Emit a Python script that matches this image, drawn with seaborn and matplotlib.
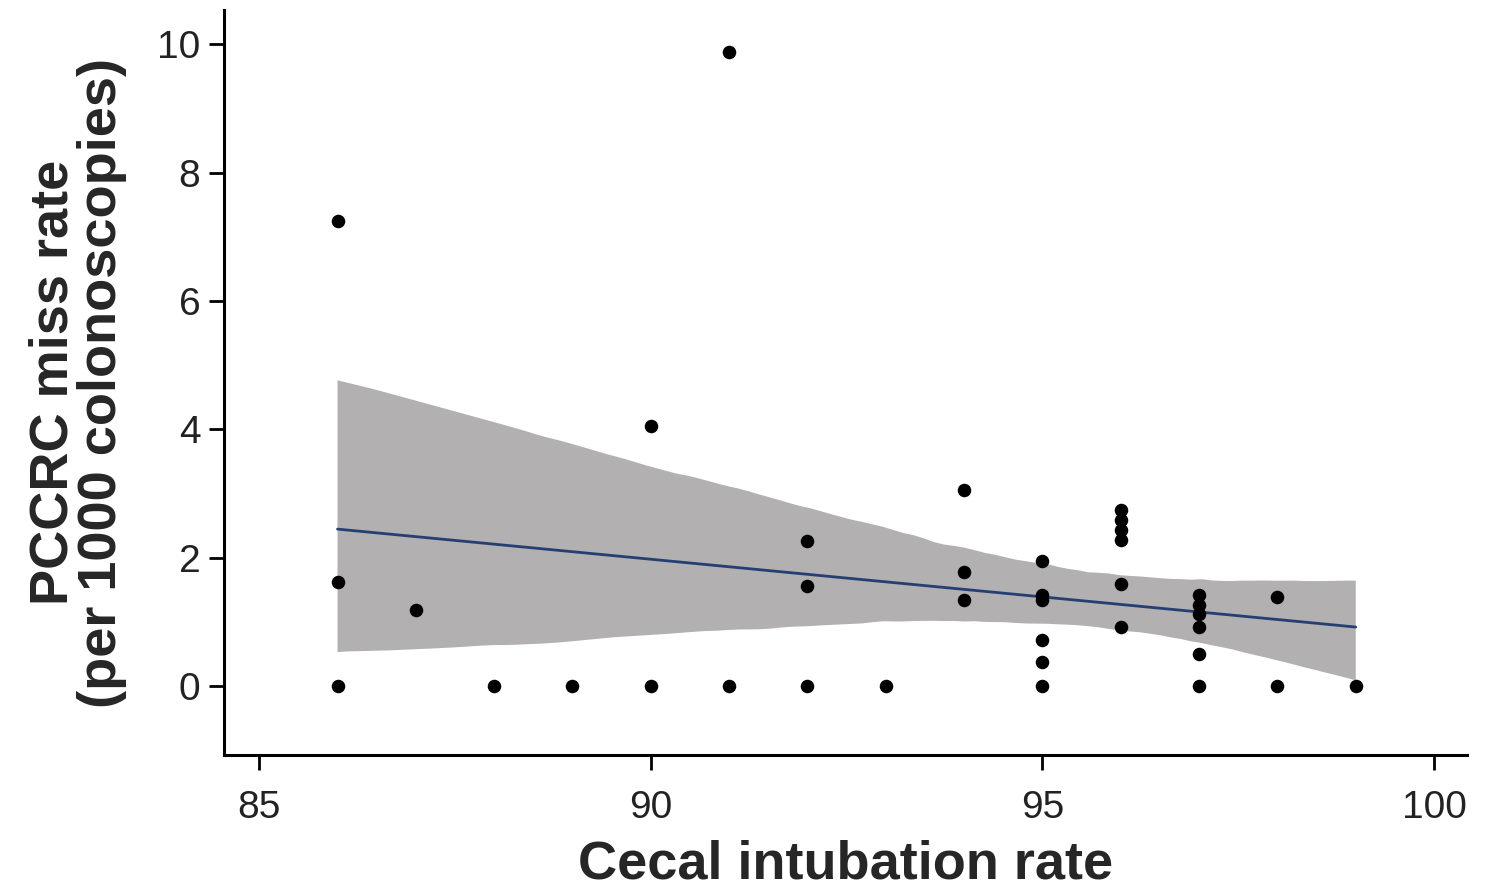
import matplotlib
matplotlib.use("Agg")
import matplotlib.pyplot as plt
import seaborn as sns
import numpy as np
import pandas as pd
from matplotlib.collections import PolyCollection

# Data
cecal_rate = [86, 86, 86, 87, 88, 89, 90, 90, 91, 91, 92, 92, 92, 93,
              94, 94, 94, 95, 95, 95, 95, 95, 95, 96, 96, 96, 96, 96, 96,
              97, 97, 97, 97, 97, 97, 98, 98, 99]
miss_rate = [7.25, 1.62, 0.0, 1.18, 0.0, 0.0, 4.05, 0.0, 9.88, 0.0, 2.26, 1.56, 0.0, 0.0,
             3.05, 1.78, 1.34, 1.95, 1.42, 1.34, 0.72, 0.38, 0.0, 2.74, 2.59, 2.43, 2.27, 1.6, 0.93,
             1.42, 1.27, 1.12, 0.93, 0.5, 0.0, 1.39, 0.0, 0.0]

x_ticks = [85, 90, 95, 100]
y_ticks = [0, 2, 4, 6, 8, 10]

df = pd.DataFrame({"Cecal intubation rate": cecal_rate, "miss": miss_rate})

sns.set_style("ticks")
plt.rcParams['font.family'] = ['Liberation Sans', 'DejaVu Sans']

fig = plt.figure(figsize=(14.96, 8.88), dpi=100)
ax = fig.add_axes([0.1497, 0.1498, 0.9806 - 0.1497, 0.9887 - 0.1498])

sns.regplot(data=df, x="Cecal intubation rate", y="miss", ax=ax, ci=95, seed=3,
            scatter_kws=dict(color="black", s=95, linewidths=0, alpha=1, zorder=3),
            line_kws=dict(color="#253f72", lw=2.0, zorder=2))

for c in ax.collections:
    if isinstance(c, PolyCollection):
        c.set_facecolor("#b2b0b0")
        c.set_alpha(1.0)
        c.set_edgecolor("none")
        c.set_zorder(1)

ax.set_xlim(84.55, 100.42)
ax.set_ylim(-1.07, 10.53)
ax.set_xticks(x_ticks)
ax.set_yticks(y_ticks)
ax.tick_params(axis="both", labelsize=28, length=11, width=2.0, direction="out", colors="black",
               labelcolor="#222222", pad=6)
ax.tick_params(axis="x", pad=14)
for s in ["left", "bottom"]:
    ax.spines[s].set_linewidth(2.2)
    ax.spines[s].set_color("black")
sns.despine(ax=ax)

ax.set_xlabel("Cecal intubation rate", fontsize=39, fontweight="bold", labelpad=10)
ax.set_ylabel("PCCRC miss rate\n(per 1000 colonoscopies)", fontsize=39, fontweight="bold",
              labelpad=22, linespacing=0.95)

fig.savefig("out.png", dpi=100)
